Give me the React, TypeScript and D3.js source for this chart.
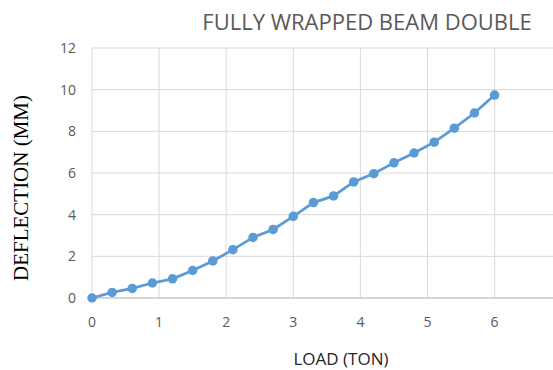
import React from 'react';
import * as d3 from 'd3';

// load (ton) and measured deflection (mm)
const loads = [0, 0.3, 0.6, 0.9, 1.2, 1.5, 1.8, 2.1, 2.4, 2.7, 3.0, 3.3, 3.6, 3.9, 4.2, 4.5, 4.8, 5.1, 5.4, 5.7, 6.0];
const deflections = [0, 0.27, 0.46, 0.72, 0.92, 1.32, 1.78, 2.32, 2.91, 3.29, 3.92, 4.58, 4.9, 5.57, 5.97, 6.49, 6.96, 7.48, 8.15, 8.88, 9.74];
const xTicks = [0, 1, 2, 3, 4, 5, 6];
const yTicks = [0, 2, 4, 6, 8, 10, 12];

const W = 553;
const H = 370;
const margin = { top: 48, right: 0, bottom: 72, left: 92 };

const App = () => {
  const innerW = W - margin.left - margin.right;
  const innerH = H - margin.top - margin.bottom;
  const unit = 67.1;

  const x = d3.scaleLinear().domain([0, innerW / unit]).range([0, innerW]);
  const y = d3.scaleLinear().domain([0, 12]).range([innerH, 0]);

  const points = loads.map((l, i) => [l, deflections[i]] as [number, number]);
  const line = d3
    .line<[number, number]>()
    .x((d) => x(d[0]))
    .y((d) => y(d[1]));

  const tickColor = '#595959';

  return (
    <svg width={W} height={H} style={{ position: 'absolute', left: 0, top: 0 }}>
      <rect width={W} height={H} fill='#ffffff' />
      <text
        x={367}
        y={30}
        textAnchor='middle'
        fontFamily='Open Sans, sans-serif'
        fontSize={22}
        fill='#595959'
      >
        FULLY WRAPPED BEAM DOUBLE
      </text>
      <g transform={`translate(${margin.left}, ${margin.top})`}>
        {/* grid */}
        {yTicks.map((t) => (
          <line key={'gy' + t} x1={0} x2={innerW} y1={y(t)} y2={y(t)} stroke='#d9d9d9' strokeWidth={1} />
        ))}
        {xTicks.map((t) => (
          <line key={'gx' + t} x1={x(t)} x2={x(t)} y1={0} y2={innerH} stroke='#d9d9d9' strokeWidth={1} />
        ))}
        <line x1={0} x2={innerW} y1={innerH} y2={innerH} stroke='#bfbfbf' strokeWidth={1} />

        {/* tick labels */}
        {yTicks.map((t) => (
          <text
            key={'ty' + t}
            x={-16}
            y={y(t) + 5}
            textAnchor='end'
            fontFamily='Open Sans, sans-serif'
            fontSize={14}
            fill={tickColor}
          >
            {t}
          </text>
        ))}
        {xTicks.map((t) => (
          <text
            key={'tx' + t}
            x={x(t)}
            y={innerH + 29}
            textAnchor='middle'
            fontFamily='Open Sans, sans-serif'
            fontSize={14}
            fill={tickColor}
          >
            {t}
          </text>
        ))}

        {/* series */}
        <path d={line(points) || ''} fill='none' stroke='#5b9bd5' strokeWidth={2.75} />
        {points.map((d, i) => (
          <circle key={'p' + i} cx={x(d[0])} cy={y(d[1])} r={4.75} fill='#5b9bd5' />
        ))}
      </g>

      <text
        x={341}
        y={365}
        textAnchor='middle'
        fontFamily='Open Sans, sans-serif'
        fontSize={17}
        fill='#262626'
      >
        LOAD (TON)
      </text>
      <text
        transform='translate(28, 188) rotate(-90)'
        textAnchor='middle'
        fontFamily='Liberation Serif, serif'
        fontSize={21}
        fill='#000000'
      >
        DEFLECTION (MM)
      </text>
    </svg>
  );
};

export default App;
